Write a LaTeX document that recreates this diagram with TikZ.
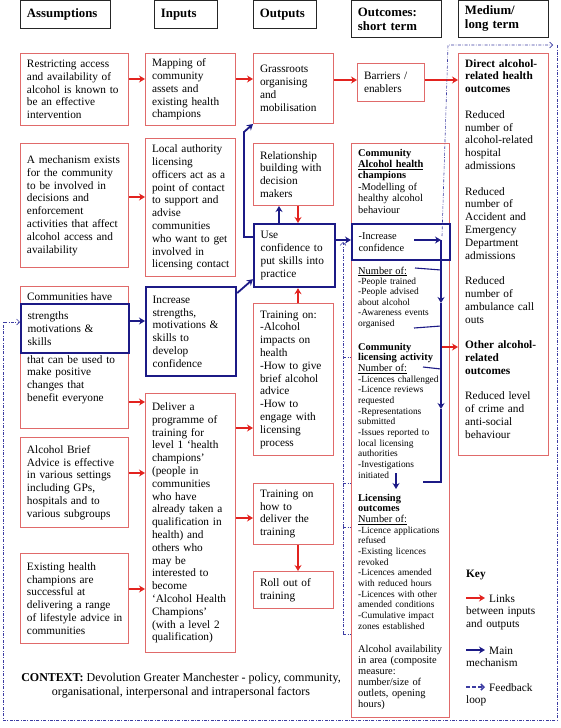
\documentclass[tikz,border=0pt]{standalone}
\usepackage{fontspec}
\setmainfont{Liberation Serif}
\usepackage{xcolor}
\usepackage{tikz}
\usetikzlibrary{arrows.meta}
\definecolor{boxred}{HTML}{E06A6A}
\definecolor{linkred}{HTML}{E2231F}
\definecolor{mechblue}{HTML}{1C1A86}
\definecolor{loopblue}{HTML}{3C3CA2}
\hyphenpenalty=10000
\exhyphenpenalty=10000
\newcommand{\mainsz}{\fontsize{11.3}{12.8}\selectfont}
\newcommand{\headsz}{\fontsize{12.8}{14}\selectfont\bfseries}
\newcommand{\outsz}{\fontsize{10.4}{11.4}\selectfont}
\newcommand{\listsz}{\fontsize{9.4}{10.67}\selectfont}
\newcommand{\ohead}[1]{{\fontsize{10.4}{10.67}\selectfont\bfseries #1}}
\newcommand{\onum}{{\fontsize{10.4}{10.67}\selectfont\underline{Number of:}}}

\begin{document}
\begin{tikzpicture}[x=1pt,y=-1pt,
  box/.style={anchor=north west,align=left,inner xsep=6.5pt,inner ysep=0pt,font=\mainsz},
  headbox/.style={box,draw=black!85,line width=0.9pt,font=\headsz},
  redbox/.style={box,draw=boxred,line width=1pt},
  bluebox/.style={box,draw=mechblue,line width=2.2pt},
  colA/.style={text width=95pt},
  colB/.style={text width=77pt},
  colC/.style={text width=67pt},
  txt/.style={anchor=base west,align=left,inner sep=0pt,font=\mainsz},
  link/.style={draw=linkred,line width=1.8pt,-{Stealth[length=6pt,width=7pt]}},
  mech/.style={draw=mechblue,line width=1.8pt,-{Stealth[length=6pt,width=7pt]}},
  brack/.style={draw=mechblue,line width=1.1pt},
  feed/.style={draw=loopblue,line width=0.6pt,dash pattern=on 3pt off 1.5pt on 0.7pt off 1.5pt},
  feedtip/.style={feed,-{Straight Barb[length=3pt,width=6pt]}}]
\useasboundingbox (0,0) rectangle (560,728);

\node[headbox,text width=77pt,minimum height=27] (hass) at (20,0.5) {Assumptions};
\node[headbox,text width=50pt,minimum height=27] (hinp) at (154,0.5) {Inputs};
\node[headbox,text width=50pt,minimum height=27] (hout) at (253,0.5) {Outputs};
\node[headbox,text width=77pt,minimum height=36] (hsht) at (351,0.5) {Outcomes:\\short term};
\node[headbox,text width=77pt,minimum height=36] (hmed) at (458,0.5) {Medium/\\long term};

\node[redbox,colA,minimum height=72] (restr) at (20,53) {Restricting access\\and availability of\\alcohol is known to\\be an effective\\intervention};
\node[redbox,colA,minimum height=124] (mechn) at (20,143) {A mechanism exists\\for the community\\to be involved in\\decisions and\\enforcement\\activities that affect\\alcohol access and\\availability};
\node[redbox,minimum width=108,minimum height=142] (comm) at (20,286) {};
\node[txt] (commtop) at (27,300) {Communities have};
\node[bluebox,colA,minimum height=49] (strg) at (20,303) {strengths\\motivations \&\\skills};
\node[txt,text width=95pt] (commbot) at (27,363) {that can be used to\\make positive\\changes that\\benefit everyone};
\node[redbox,colA,minimum height=90] (brief) at (20,437) {Alcohol Brief\\Advice is effective\\in various settings\\including GPs,\\hospitals and to\\various subgroups};
\node[redbox,colA,minimum height=90] (exist) at (20,553) {Existing health\\champions are\\successful at\\delivering a range\\\mbox{of lifestyle advice in}\\communities};

\node[redbox,colB,minimum height=72] (mapg) at (145,53) {Mapping of\\community\\assets and\\existing health\\champions};
\node[redbox,colB,minimum height=138] (lauth) at (145,138) {Local authority\\licensing\\officers act as a\\point of contact\\to support and\\advise\\communities\\who want to get\\involved in\\\mbox{licensing contact}};
\node[bluebox,colB,minimum height=89] (incs) at (145,286) {Increase\\strengths,\\motivations \&\\skills to\\develop\\confidence};
\node[redbox,colB,minimum height=259] (deliv) at (145,393) {Deliver a\\programme of\\training for\\level 1 `health\\champions'\\(people in\\communities\\who have\\already taken a\\qualification in\\health) and\\others who\\may be\\interested to\\become\\`Alcohol Health\\Champions'\\(with a level 2\\qualification)};

\node[redbox,colC,minimum height=70] (grass) at (253,53) {Grassroots\\organising\\and\\mobilisation};
\node[redbox,colC,minimum height=62] (relat) at (253,143) {Relationship\\building with\\decision\\makers};
\node[bluebox,text width=68pt,minimum height=63] (usec) at (253,223) {Use\\confidence to\\put skills into\\practice};
\node[redbox,colC,minimum height=152] (train) at (253,303) {Training on:\\-Alcohol\\impacts on\\health\\-How to give\\brief alcohol\\advice\\-How to\\engage with\\licensing\\process};
\node[redbox,colC,minimum height=61] (trhow) at (253,483) {Training on\\how to\\deliver the\\training};
\node[redbox,colC,minimum height=37] (roll) at (253,571) {Roll out of\\training};

\node[redbox,text width=54pt,minimum height=38] (barr) at (357,63) {Barriers /\\enablers};
\node[redbox,minimum width=98,minimum height=574] (outc) at (351,143) {};
\node[txt,font=\outsz,text width=84pt] (chmp) at (358,156) {\textbf{Community}\\\textbf{\underline{Alcohol health}}\\\textbf{champions}\\-Modelling of\\healthy alcohol\\behaviour};
\node[bluebox,font=\fontsize{10.4}{11.4}\selectfont,text width=85pt,minimum height=36] (conf) at (351,223) {-Increase\\confidence};
\node[txt,font=\fontsize{9.4}{10.4}\selectfont,text width=84pt] (numa) at (358,274) {{\fontsize{10.4}{10.4}\selectfont\underline{Number of:}}\\-People trained\\-People advised\\about alcohol\\-Awareness events\\organised};
\node[txt,font=\listsz,text width=84pt] (lica) at (358,350) {\ohead{Community}\\\ohead{licensing activity}\\\onum\\-Licences challenged\\-Licence reviews\\requested\\-Representations\\submitted\\-Issues reported to\\local licensing\\authorities\\-Investigations\\initiated};
\node[txt,font=\listsz,text width=84pt] (lico) at (358,501) {\ohead{Licensing}\\\ohead{outcomes}\\\onum\\-Licence applications\\refused\\-Existing licences\\revoked\\-Licences amended\\with reduced hours\\-Licences with other\\amended conditions\\-Cumulative impact\\zones established};
\node[txt,font=\fontsize{10.4}{11}\selectfont,text width=84pt] (avail) at (358,652) {Alcohol availability\\in area (composite\\measure:\\number/size of\\outlets, opening\\hours)};

\node[redbox,minimum width=90,minimum height=402] (medlt) at (458,53) {};
\node[txt,text width=77pt] (medtx) at (465,67) {\textbf{Direct alcohol-}\\\textbf{related health}\\\textbf{outcomes}\\[12.8pt]Reduced\\number of\\alcohol-related\\hospital\\admissions\\[12.8pt]Reduced\\number of\\Accident and\\Emergency\\Department\\admissions\\[12.8pt]Reduced\\number of\\ambulance call\\outs\\[12.8pt]\textbf{Other alcohol-}\\\textbf{related}\\\textbf{outcomes}\\[12.8pt]Reduced level\\of crime and\\anti-social\\behaviour};

\node[font=\fontsize{12}{14}\selectfont,align=center] (ctx) at (181,686) {\textbf{CONTEXT:} Devolution Greater Manchester - policy, community,\\organisational, interpersonal and intrapersonal factors};

\node[txt,font=\mainsz\bfseries] (keyt) at (466,577) {Key};
\node[txt,text width=85pt] (keyl) at (466,602) {\hspace*{23pt}Links\\between inputs\\and outputs};
\node[txt,text width=85pt] (keym) at (466,654) {\hspace*{23pt}Main\\mechanism};
\node[txt,text width=85pt] (keyf) at (466,691) {\hspace*{23pt}Feedback\\loop};
\coordinate (kla) at (466,598);
\coordinate (klb) at (485,598);
\coordinate (kma) at (466,650);
\coordinate (kmb) at (485,650);
\coordinate (kfa) at (466,687);
\coordinate (kfb) at (485,687);
\draw[link] (kla) -- (klb);
\draw[mech] (kma) -- (kmb);
\draw[feedtip,line width=1.6pt,dash pattern=on 4pt off 2pt] (kfa) -- (kfb);

\draw[link] (restr.east |- 0,79) -- (mapg.west |- 0,79);
\draw[link] (mapg.east |- 0,79) -- (grass.west |- 0,79);
\draw[link] (grass.east |- 0,80) -- (barr.west |- 0,80);
\draw[link] (barr.east |- 0,80) -- (medlt.west |- 0,80);
\draw[link] (mechn.east |- 0,197) -- (lauth.west |- 0,197);
\draw[link] (relat.south -| 298,0) -- (usec.north -| 298,0);
\draw[link] (train.north -| 298,0) -- (usec.south -| 298,0);
\draw[link] (comm.east |- 0,402) -- (deliv.west |- 0,402);
\draw[link] (deliv.east |- 0,428) -- (train.west |- 0,428);
\draw[link] (brief.east |- 0,473) -- (deliv.west |- 0,473);
\draw[link] (deliv.east |- 0,518) -- (trhow.west |- 0,518);
\draw[link] (trhow.south -| 298,0) -- (roll.north -| 298,0);
\draw[link] (exist.east |- 0,589) -- (deliv.west |- 0,589);

\coordinate (spinetop) at (441,240);
\coordinate (spinebot) at (441,482);
\draw[link] (spinetop |- 0,347) -- (medlt.west |- 0,347);

\draw[mech] (strg.east |- 0,321) -- (incs.west |- 0,321);
\draw[mech] ([yshift=-7pt]incs.north east) -- ([yshift=9pt]usec.south west);
\draw[mech] (usec.west |- 0,237) -- (244,237) -- (244,132) -- (grass.south west);
\draw[mech] (usec.north -| 279,0) -- (relat.south -| 279,0);
\draw[mech] (usec.east |- 0,240) -- (conf.west |- 0,240);
\draw[mech] (414,240) -- (spinetop);
\draw[mech] (spinetop) -- (spinetop |- 0,303);
\draw[mech] (spinetop |- 0,303) -- (spinetop |- 0,409);
\draw[brack] (spinetop |- 0,409) -- (spinebot) -- (423,482);
\draw[brack] (415,268) -- (spinetop |- 0,270);
\draw[brack] (414,328) -- (spinetop |- 0,326);
\draw[brack] (423,367) -- (spinetop |- 0,369);
\draw[mech] (396,473) -- (396,489);

\draw[feedtip] (442,236) -- (448,45) -- (553,45);
\draw[feedtip] (557,45) -- (557,720) -- (3,720) -- (3,322) -- (strg.west |- 0,322);
\draw[feedtip] (343,634) -- (343,242);
\draw[feed] (343,357) -- (outc.west |- 0,357);
\draw[feed] (343,483) -- (outc.west |- 0,483);
\draw[feed] (343,527) -- (outc.west |- 0,527);
\draw[feed] (343,634) -- (outc.west |- 0,634);
\end{tikzpicture}
\end{document}
